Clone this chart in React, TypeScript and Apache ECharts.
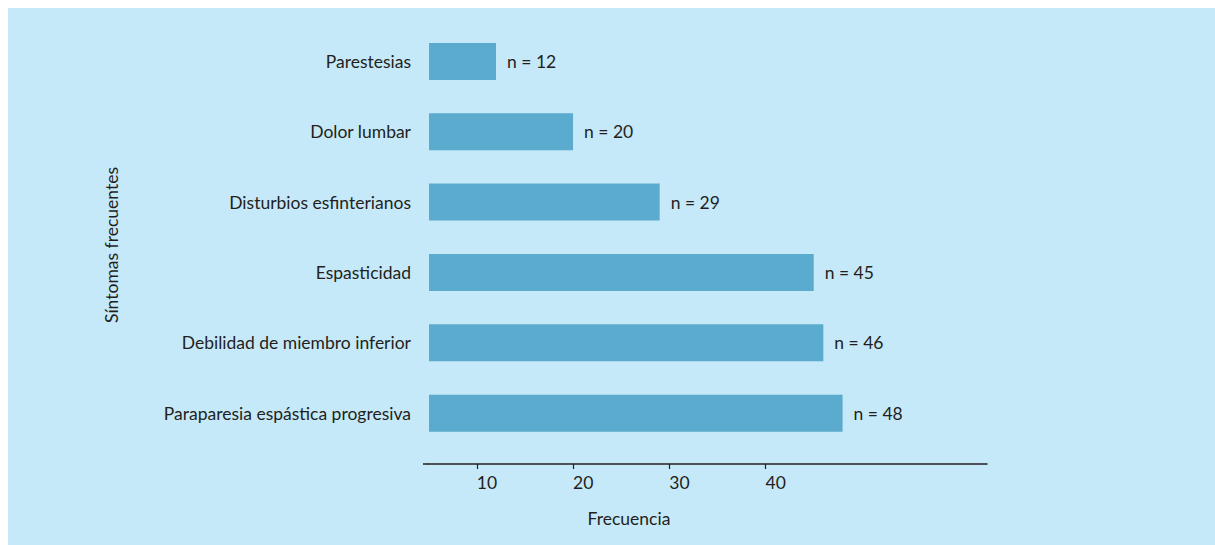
import React, { useEffect, useRef } from "react";
import * as echarts from "echarts";

const categories = [
  "Parestesias",
  "Dolor lumbar",
  "Disturbios esfinterianos",
  "Espasticidad",
  "Debilidad de miembro inferior",
  "Paraparesia espástica progresiva",
];
const values = [12, 20, 29, 45, 46, 48];
const tickValues = [10, 20, 30, 40];
const xAxisTitle = "Frecuencia";
const yAxisTitle = "Síntomas frecuentes";

const FONT = "Lato, 'Open Sans', sans-serif";
const FS = 17.5;
const TEXT = "#231f20";
const BAR = "#5aabcd";
const BG = "#c6e9f9";

export default function App() {
  const ref = useRef<HTMLDivElement>(null);
  useEffect(() => {
    const chart = echarts.init(ref.current!, null, { renderer: "svg" });
    chart.setOption({
      animation: false,
      backgroundColor: BG,
      textStyle: { fontFamily: FONT },
      grid: {
        left: 421,
        right: 228,
        top: 18.2,
        bottom: 96.6,
        containLabel: false,
        outerBoundsMode: "none",
      },
      xAxis: {
        type: "value",
        min: 5.04,
        max: 63,
        offset: 15.6,
        splitLine: { show: false },
        axisLine: { show: true, lineStyle: { color: TEXT, width: 1.5 } },
        axisTick: {
          show: true,
          length: 5,
          customValues: tickValues,
          lineStyle: { color: TEXT, width: 1.2 },
        },
        axisLabel: {
          customValues: tickValues,
          color: TEXT,
          fontSize: FS,
          fontFamily: FONT,
          align: "left",
          margin: 9,
        },
      },
      yAxis: {
        type: "category",
        inverse: true,
        data: categories,
        axisLine: { show: false },
        axisTick: { show: false },
        splitLine: { show: false },
        axisLabel: {
          color: TEXT,
          fontSize: FS,
          fontFamily: FONT,
          margin: 18,
        },
      },
      series: [
        {
          type: "bar",
          data: values,
          barWidth: 37,
          itemStyle: { color: BAR },
          label: {
            show: true,
            position: "right",
            distance: 11,
            formatter: (p: any) => `n = ${p.value}`,
            color: TEXT,
            fontSize: FS,
            fontFamily: FONT,
          },
        },
      ],
      graphic: [
        {
          type: "line",
          shape: { x1: 415, y1: 456, x2: 421, y2: 456 },
          style: { stroke: TEXT, lineWidth: 1.5 },
        },
        {
          type: "text",
          x: 621,
          y: 510,
          style: {
            text: xAxisTitle,
            fill: TEXT,
            fontSize: FS,
            fontFamily: FONT,
            align: "center",
            verticalAlign: "middle",
          },
        },
        {
          type: "text",
          x: 103,
          y: 237,
          rotation: Math.PI / 2,
          style: {
            text: yAxisTitle,
            fill: TEXT,
            fontSize: FS,
            fontFamily: FONT,
            align: "center",
            verticalAlign: "middle",
          },
        },
      ],
    });
    return () => chart.dispose();
  }, []);
  return (
    <div
      ref={ref}
      style={{
        position: "fixed",
        left: 8,
        top: 8,
        width: 1207,
        height: 537,
        background: BG,
      }}
    />
  );
}
